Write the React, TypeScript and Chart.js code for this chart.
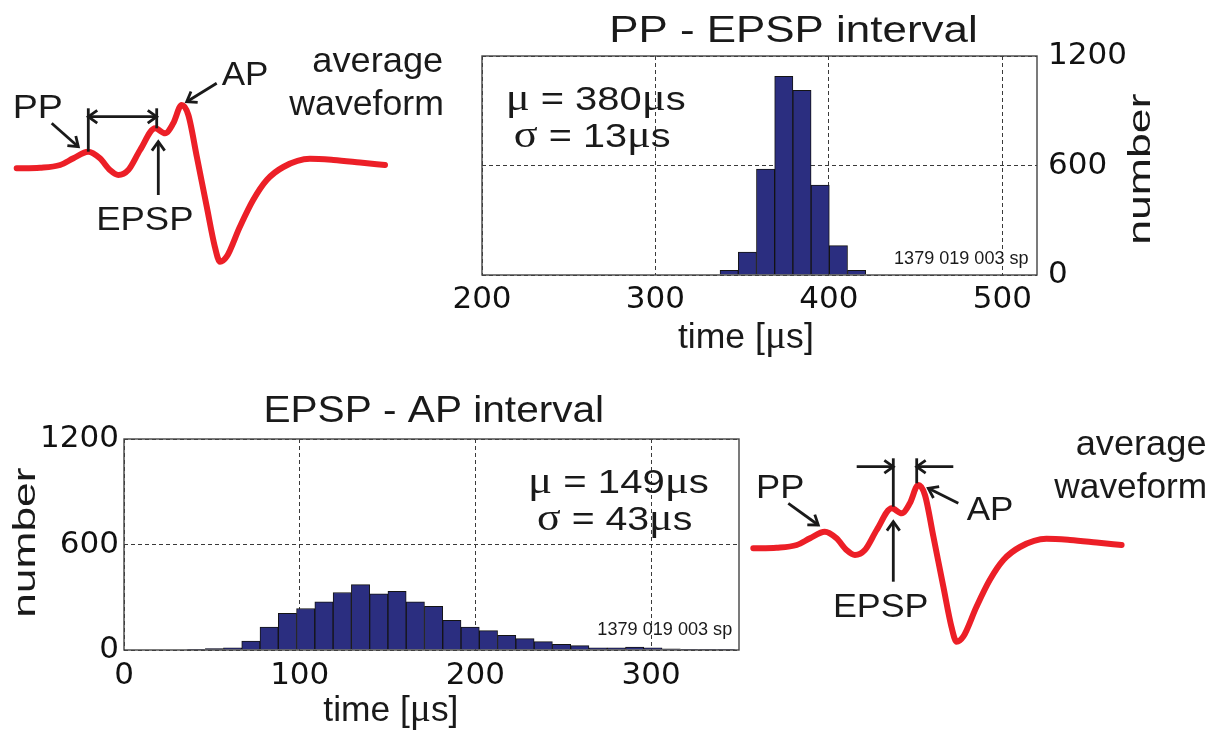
import React, { useEffect, useRef } from 'react';
import { Chart, registerables } from 'chart.js';

Chart.register(...registerables);

const W = 1220;
const H = 731;

// ---------------- data ----------------
const ppEpspBinCenters = [342.5, 353, 363.5, 374, 384.5, 395, 405.5, 416];
const ppEpspCounts = [26, 125, 580, 1089, 1012, 493, 161, 26];

const epspApBinCenters = [
  41, 51.4, 61.8, 72.2, 82.6, 93, 103.4, 113.8, 124.2, 134.6, 145, 155.4, 165.8, 176.2, 186.6,
  197, 207.4, 217.8, 228.2, 238.6, 249, 259.4, 269.8, 280.2, 290.6, 301, 311.4, 321.8, 332.2, 342.6,
];
const epspApCounts = [
  4, 8, 13, 51, 131, 209, 236, 274, 327, 372, 319, 334, 274, 249, 169,
  131, 110, 84, 65, 48, 32, 25, 13, 13, 17, 13, 6, 2, 2, 2,
];

const ppEpspTimeTicks = [200, 300, 400, 500];
const epspApTimeTicks = [0, 100, 200, 300];
const countTicks = [0, 600, 1200];

// average waveform (arbitrary time / amplitude units)
const waveformTime = [
  0, 6.3, 11.8, 15.4, 19.4, 22.6, 25.3, 27.6, 30.3, 33.5, 37.6, 40.3, 42.5, 44.8,
  46.6, 48.9, 51.6, 53.8, 55.2, 57.0, 60.6, 64.2, 67.9, 72.4, 79.6, 86.0, 93.2, 100,
];
const waveformVoltage = [
  -0.33, -0.27, 0.0, 0.67, 1.33, 0.67, -0.5, -1.0, -0.5, 1.5, 3.67, 3.17, 4.17, 6.0,
  5.0, 0.83, -4.17, -8.17, -9.67, -9.17, -6.17, -3.5, -1.5, -0.2, 0.62, 0.5, 0.25, 0.0,
];

// ---------------- styles ----------------
const FONT = '"Liberation Sans", Arial, Helvetica, sans-serif';
const GREEK_FONT = '"Liberation Serif", "DejaVu Serif", serif';
const TICK_FONT = '"DejaVu Sans", "Liberation Sans", sans-serif';
const INK = '#1a1a1a';
const BAR = '#2b2e80';
const GRID = '#3a3a3a';
const RED = '#ec1f27';

type TextSpec = { s: string; x1?: number; x2?: number; base?: number; size: number; rot?: boolean; x?: number; y1?: number; y2?: number };
type Seg = { a: [number, number]; b: [number, number]; headEnd?: boolean; headStart?: boolean };

function splitRuns(s: string) {
  const out: { t: string; g: boolean }[] = [];
  for (const ch of s) {
    const g = /[μσ]/.test(ch);
    const last = out[out.length - 1];
    if (last && last.g === g) last.t += ch;
    else out.push({ t: ch, g });
  }
  return out;
}

function fitText(ctx: CanvasRenderingContext2D, t: TextSpec) {
  ctx.save();
  ctx.textAlign = 'left';
  ctx.textBaseline = 'alphabetic';
  ctx.fillStyle = INK;
  const runs = splitRuns(t.s).map((r) => {
    const font = `${r.g ? Math.round(t.size * 1.12) : t.size}px ${r.g ? GREEK_FONT : FONT}`;
    ctx.font = font;
    const m = ctx.measureText(r.t);
    return { ...r, font, adv: m.width, L: m.actualBoundingBoxLeft, R: m.actualBoundingBoxRight };
  });
  let total = 0;
  runs.forEach((r) => (total += r.adv));
  const first = runs[0];
  const last = runs[runs.length - 1];
  const L = first.L;
  const inkRight = total - last.adv + last.R;
  const ink = L + inkRight;
  if (t.rot) {
    const sx = ((t.y1 as number) - (t.y2 as number)) / ink;
    ctx.translate(t.x as number, t.y1 as number);
    ctx.rotate(-Math.PI / 2);
    ctx.scale(sx, 1);
  } else {
    const sx = ((t.x2 as number) - (t.x1 as number)) / ink;
    ctx.translate(t.x1 as number, t.base as number);
    ctx.scale(sx, 1);
  }
  let x = L;
  for (const r of runs) {
    ctx.font = r.font;
    ctx.fillText(r.t, x, 0);
    x += r.adv;
  }
  ctx.restore();
}

function head(ctx: CanvasRenderingContext2D, from: [number, number], tip: [number, number]) {
  const ang = Math.atan2(tip[1] - from[1], tip[0] - from[0]);
  const len = 11;
  const spread = 0.62;
  ctx.beginPath();
  ctx.moveTo(tip[0] - len * Math.cos(ang - spread), tip[1] - len * Math.sin(ang - spread));
  ctx.lineTo(tip[0], tip[1]);
  ctx.lineTo(tip[0] - len * Math.cos(ang + spread), tip[1] - len * Math.sin(ang + spread));
  ctx.stroke();
}

function drawSegs(ctx: CanvasRenderingContext2D, segs: Seg[]) {
  ctx.save();
  ctx.strokeStyle = INK;
  ctx.lineWidth = 2.8;
  ctx.lineCap = 'butt';
  ctx.lineJoin = 'miter';
  for (const g of segs) {
    ctx.beginPath();
    ctx.moveTo(g.a[0], g.a[1]);
    ctx.lineTo(g.b[0], g.b[1]);
    ctx.stroke();
    if (g.headEnd) head(ctx, g.a, g.b);
    if (g.headStart) head(ctx, g.b, g.a);
  }
  ctx.restore();
}

// ---------------- layout of annotations ----------------
const topHistTexts: TextSpec[] = [
  { s: 'PP - EPSP interval', x1: 612.7, x2: 975, base: 41.7, size: 37 },
  { s: 'μ = 380μs', x1: 509.3, x2: 685, base: 110, size: 33 },
  { s: 'σ = 13μs', x1: 515, x2: 670, base: 146.7, size: 33 },
  { s: '1379 019 003 sp', x1: 895, x2: 1028, base: 264, size: 19 },
  { s: 'time [μs]', x1: 678, x2: 812, base: 347.5, size: 35 },
  { s: 'number', rot: true, x: 1150, y1: 242, y2: 93, size: 32 },
];
const bottomHistTexts: TextSpec[] = [
  { s: 'EPSP - AP interval', x1: 266.7, x2: 601.7, base: 421.7, size: 37 },
  { s: 'μ = 149μs', x1: 531.7, x2: 708.3, base: 493.3, size: 33 },
  { s: 'σ = 43μs', x1: 538.3, x2: 691.7, base: 530, size: 33 },
  { s: '1379 019 003 sp', x1: 598.3, x2: 731.7, base: 635, size: 19 },
  { s: 'time [μs]', x1: 323.3, x2: 456.7, base: 721, size: 35 },
  { s: 'number', rot: true, x: 35, y1: 615, y2: 468, size: 31 },
];
const topWaveTexts: TextSpec[] = [
  { s: 'PP', x1: 15, x2: 61.7, base: 118.3, size: 33 },
  { s: 'EPSP', x1: 98.3, x2: 191.7, base: 230, size: 34 },
  { s: 'AP', x1: 221.7, x2: 266.7, base: 85, size: 34 },
  { s: 'average', x1: 313.3, x2: 441.7, base: 71.5, size: 35 },
  { s: 'waveform', x1: 288.3, x2: 441.7, base: 115, size: 35 },
];
const topWaveSegs: Seg[] = [
  { a: [51.7, 123.3], b: [78.3, 146.7], headEnd: true },
  { a: [88.3, 108.3], b: [88.3, 151.7] },
  { a: [88.3, 116.7], b: [156.7, 116.7], headEnd: true, headStart: true },
  { a: [156.7, 108.3], b: [156.7, 128.3] },
  { a: [158.3, 195], b: [158.3, 141.7], headEnd: true },
  { a: [216.7, 83.3], b: [186.7, 101.7], headEnd: true },
];
const bottomWaveTexts: TextSpec[] = [
  { s: 'PP', x1: 758.3, x2: 803.3, base: 498.3, size: 33 },
  { s: 'EPSP', x1: 835, x2: 926.7, base: 616.7, size: 34 },
  { s: 'AP', x1: 966.7, x2: 1011.7, base: 520, size: 34 },
  { s: 'average', x1: 1076.7, x2: 1205, base: 455, size: 35 },
  { s: 'waveform', x1: 1053.3, x2: 1205, base: 498.3, size: 35 },
];
const bottomWaveSegs: Seg[] = [
  { a: [788.3, 503.3], b: [818.3, 525], headEnd: true },
  { a: [893.3, 458.3], b: [893.3, 506.7] },
  { a: [916.7, 458.3], b: [916.7, 483.3] },
  { a: [856.7, 466.7], b: [893.3, 466.7], headEnd: true },
  { a: [953.3, 466.7], b: [916.7, 466.7], headEnd: true },
  { a: [893.3, 581.7], b: [893.3, 521.7], headEnd: true },
  { a: [958.3, 503.3], b: [928.3, 488.3], headEnd: true },
];

// ---------------- chart configs ----------------
type Area = { l: number; r: number; t: number; b: number };

function histogramConfig(p: {
  id: string;
  centers: number[];
  counts: number[];
  xMin: number;
  xMax: number;
  xTicks: number[];
  area: Area;
  yPosition: 'left' | 'right';
  yAxisWidth: number;
  xAxisHeight: number;
  xTickPad: number;
  yTickPad: number;
  texts: TextSpec[];
}) {
  const { area } = p;
  const padding =
    p.yPosition === 'right'
      ? { left: area.l, right: W - area.r - p.yAxisWidth, top: area.t, bottom: H - area.b - p.xAxisHeight }
      : { left: area.l - p.yAxisWidth, right: W - area.r, top: area.t, bottom: H - area.b - p.xAxisHeight };
  const tickFont = { family: TICK_FONT, size: 31 };
  return {
    type: 'bar',
    data: {
      datasets: [
        {
          data: p.centers.map((x, i) => ({ x, y: p.counts[i] })),
          backgroundColor: BAR,
          borderColor: '#141414',
          borderWidth: 1,
          barPercentage: 1,
          categoryPercentage: 1,
        },
      ],
    },
    options: {
      responsive: false,
      animation: false,
      events: [],
      layout: { padding },
      plugins: { legend: { display: false }, tooltip: { enabled: false }, title: { display: false } },
      scales: {
        x: {
          type: 'linear',
          min: p.xMin,
          max: p.xMax,
          offset: false,
          afterBuildTicks: (s: any) => {
            s.ticks = p.xTicks.map((value) => ({ value }));
          },
          afterFit: (s: any) => {
            s.height = p.xAxisHeight;
          },
          grid: { offset: false, color: GRID, lineWidth: 1, drawTicks: false },
          border: { display: false, dash: [4, 3] },
          ticks: {
            color: '#111',
            font: tickFont,
            padding: p.xTickPad,
            maxRotation: 0,
            autoSkip: false,
            callback: (v: any) => String(v),
          },
        },
        y: {
          type: 'linear',
          position: p.yPosition,
          min: 0,
          max: 1200,
          afterBuildTicks: (s: any) => {
            s.ticks = countTicks.map((value) => ({ value }));
          },
          afterFit: (s: any) => {
            s.width = p.yAxisWidth;
          },
          grid: { color: GRID, lineWidth: 1, drawTicks: false },
          border: { display: false, dash: [4, 3] },
          ticks: {
            color: '#111',
            font: tickFont,
            padding: p.yTickPad,
            autoSkip: false,
            callback: (v: any) => String(v),
          },
        },
      },
    },
    plugins: [
      {
        id: 'frame-' + p.id,
        afterDraw(chart: any) {
          const ctx = chart.ctx as CanvasRenderingContext2D;
          const a = chart.chartArea;
          ctx.save();
          ctx.strokeStyle = '#444';
          ctx.lineWidth = 1.4;
          ctx.strokeRect(a.left, a.top, a.right - a.left, a.bottom - a.top);
          ctx.restore();
          p.texts.forEach((t) => fitText(ctx, t));
        },
      },
    ],
  };
}

function waveformConfig(id: string, area: Area, texts: TextSpec[], segs: Seg[]) {
  return {
    type: 'line',
    data: {
      datasets: [
        {
          data: waveformTime.map((x, i) => ({ x, y: waveformVoltage[i] })),
          borderColor: RED,
          borderWidth: 6,
          pointRadius: 0,
          cubicInterpolationMode: 'monotone',
          borderCapStyle: 'round',
          borderJoinStyle: 'round',
          fill: false,
          clip: false,
        },
      ],
    },
    options: {
      responsive: false,
      animation: false,
      events: [],
      layout: { padding: { left: area.l, right: W - area.r, top: area.t, bottom: H - area.b } },
      plugins: { legend: { display: false }, tooltip: { enabled: false } },
      scales: {
        x: { type: 'linear', display: false, min: 0, max: 100 },
        y: { type: 'linear', display: false, min: -10, max: 7 },
      },
    },
    plugins: [
      {
        id: 'annot-' + id,
        afterDraw(chart: any) {
          const ctx = chart.ctx as CanvasRenderingContext2D;
          drawSegs(ctx, segs);
          texts.forEach((t) => fitText(ctx, t));
        },
      },
    ],
  };
}

function ChartCanvas({ make }: { make: () => any }) {
  const ref = useRef<HTMLCanvasElement>(null);
  useEffect(() => {
    const chart = new Chart(ref.current as HTMLCanvasElement, make());
    return () => chart.destroy();
  }, []);
  return (
    <canvas
      ref={ref}
      width={W}
      height={H}
      style={{ position: 'absolute', left: 0, top: 0, width: W, height: H }}
    />
  );
}

export default function App() {
  return (
    <div style={{ position: 'absolute', left: 0, top: 0, width: W, height: H, background: '#fff', overflow: 'hidden' }}>
      <ChartCanvas
        make={() =>
          histogramConfig({
            id: 'pp-epsp',
            centers: ppEpspBinCenters,
            counts: ppEpspCounts,
            xMin: 200,
            xMax: 520,
            xTicks: ppEpspTimeTicks,
            area: { l: 482, r: 1037, t: 56, b: 275 },
            yPosition: 'right',
            yAxisWidth: 100,
            xAxisHeight: 60,
            xTickPad: 6,
            yTickPad: 11,
            texts: topHistTexts,
          })
        }
      />
      <ChartCanvas
        make={() =>
          histogramConfig({
            id: 'epsp-ap',
            centers: epspApBinCenters,
            counts: epspApCounts,
            xMin: 0,
            xMax: 350,
            xTicks: epspApTimeTicks,
            area: { l: 124, r: 739, t: 439, b: 650 },
            yPosition: 'left',
            yAxisWidth: 124,
            xAxisHeight: 60,
            xTickPad: 7,
            yTickPad: 5,
            texts: bottomHistTexts,
          })
        }
      />
      <ChartCanvas make={() => waveformConfig('top', { l: 16.7, r: 385, t: 95, b: 265 }, topWaveTexts, topWaveSegs)} />
      <ChartCanvas
        make={() => waveformConfig('bottom', { l: 753.3, r: 1121.6, t: 475, b: 645 }, bottomWaveTexts, bottomWaveSegs)}
      />
    </div>
  );
}
